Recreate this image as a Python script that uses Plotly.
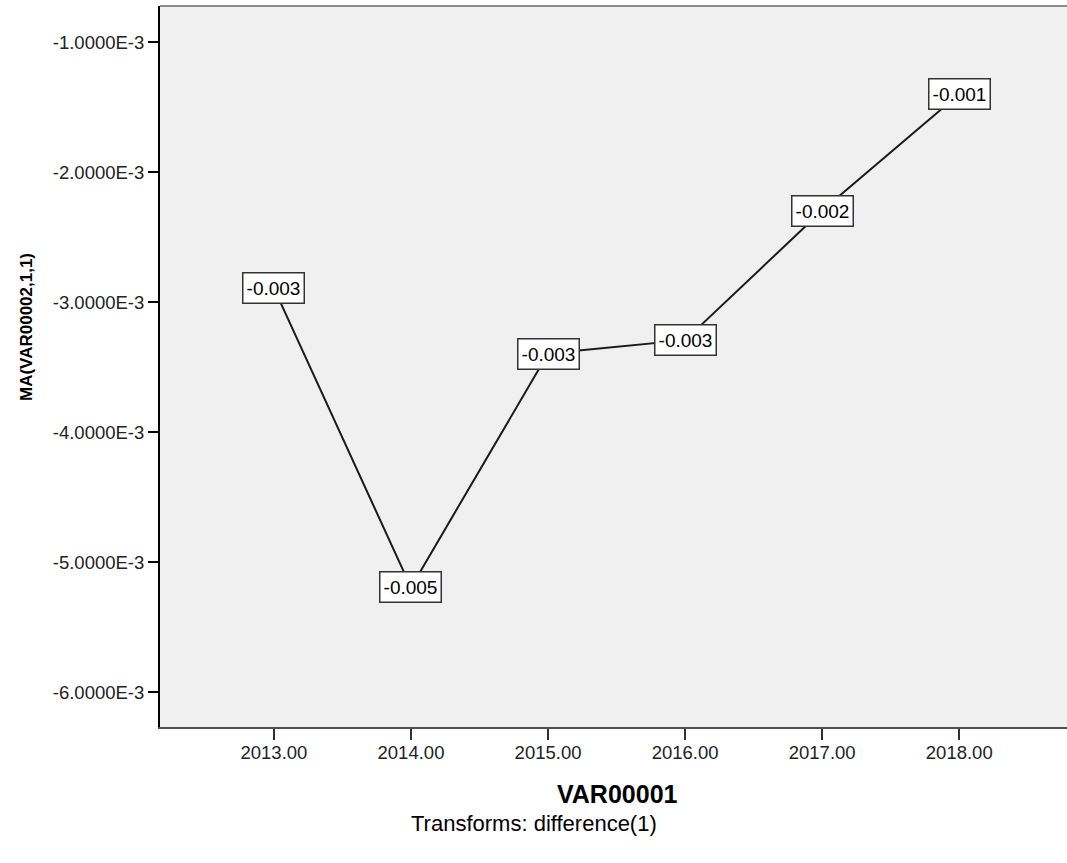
import plotly.graph_objects as go

# Series: moving-average model estimates by year
years = [2013, 2014, 2015, 2016, 2017, 2018]
ma_values = [-0.002892, -0.005195, -0.003395, -0.003292, -0.002295, -0.001398]

# Y axis tick positions
y_ticks = [-0.001, -0.002, -0.003, -0.004, -0.005, -0.006]
x_ticks = [2013, 2014, 2015, 2016, 2017, 2018]


def sci_label(v):
    mant, exp = f"{v:.4E}".split("E")
    return f"{mant}E{int(exp)}"


y_tick_text = [sci_label(v) for v in y_ticks]

FONT = "Liberation Sans, Arial, sans-serif"

fig = go.Figure()
fig.add_trace(go.Scatter(
    x=years, y=ma_values, mode="lines",
    line=dict(color="#1a1a1a", width=2),
    hoverinfo="skip", showlegend=False,
))

# Boxed value labels at each point
annotations = []
for x, y in zip(years, ma_values):
    annotations.append(dict(
        x=x, y=y, xref="x", yref="y", text=f"{y:.3f}", showarrow=False,
        xanchor="center", yanchor="middle", width=56, height=25,
        font=dict(family=FONT, size=19, color="#000000"),
        bgcolor="#ffffff", bordercolor="#333333", borderwidth=1.5, borderpad=2,
    ))

annotations += [
    dict(text="<b>MA(VAR00002,1,1)</b>", xref="paper", yref="paper",
         x=(26 - 160) / 907, y=(727 - 327) / 721, textangle=-90,
         showarrow=False, xanchor="center", yanchor="middle",
         font=dict(family=FONT, size=17, color="#000000")),
    dict(text="<b>VAR00001</b>", xref="paper", yref="paper",
         x=(617 - 160) / 907, y=(727 - 794) / 721,
         showarrow=False, xanchor="center", yanchor="middle",
         font=dict(family=FONT, size=25, color="#000000")),
    dict(text="Transforms: difference(1)", xref="paper", yref="paper",
         x=(534 - 160) / 907, y=(727 - 823) / 721,
         showarrow=False, xanchor="center", yanchor="middle",
         font=dict(family=FONT, size=22, color="#000000")),
]

fig.update_layout(
    width=1067, height=863,
    margin=dict(l=160, r=0, t=6, b=136),
    paper_bgcolor="#ffffff", plot_bgcolor="#f0f0f0",
    annotations=annotations,
    shapes=[dict(type="line", xref="paper", yref="paper", x0=0, x1=1, y0=1, y1=1,
                 line=dict(color="#8c8c8c", width=2))],
)

fig.update_xaxes(
    range=[2012.169, 2018.786], tickvals=x_ticks, tickformat=".2f",
    showgrid=False, zeroline=False,
    showline=True, linecolor="#505050", linewidth=2,
    ticks="outside", ticklen=11, tickwidth=2, tickcolor="#303030",
    ticklabelstandoff=-3,
    tickfont=dict(family=FONT, size=18.5, color="#222222"),
)
fig.update_yaxes(
    range=[-0.006269, -0.0007208], tickvals=y_ticks, ticktext=y_tick_text,
    showgrid=False, zeroline=False,
    showline=True, linecolor="#000000", linewidth=2,
    ticks="outside", ticklen=10, tickwidth=2, tickcolor="#000000",
    ticklabelstandoff=0,
    tickfont=dict(family=FONT, size=18.5, color="#222222"),
)

fig.write_html("out.html")
